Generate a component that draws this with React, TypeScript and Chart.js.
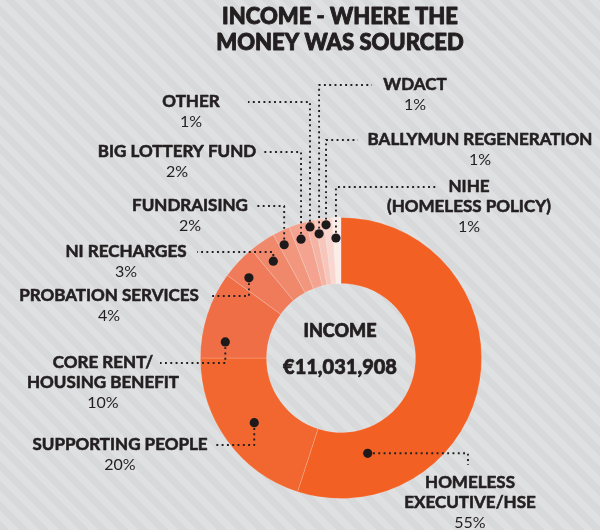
import React, { useEffect, useRef } from "react";
import { Chart, registerables } from "chart.js";

Chart.register(...registerables);

// ---------- data ----------
const chartTitle = ["INCOME - WHERE THE", "MONEY WAS SOURCED"];
const centerTitle = "INCOME";
const totalIncome = "€11,031,908";

const categories = [
  "HOMELESS EXECUTIVE/HSE",
  "SUPPORTING PEOPLE",
  "CORE RENT/HOUSING BENEFIT",
  "PROBATION SERVICES",
  "NI RECHARGES",
  "FUNDRAISING",
  "BIG LOTTERY FUND",
  "OTHER",
  "WDACT",
  "BALLYMUN REGENERATION",
  "NIHE (HOMELESS POLICY)",
];

const labelLines = [
  ["HOMELESS", "EXECUTIVE/HSE"],
  ["SUPPORTING PEOPLE"],
  ["CORE RENT/", "HOUSING BENEFIT"],
  ["PROBATION SERVICES"],
  ["NI RECHARGES"],
  ["FUNDRAISING"],
  ["BIG LOTTERY FUND"],
  ["OTHER"],
  ["WDACT"],
  ["BALLYMUN REGENERATION"],
  ["NIHE", "(HOMELESS POLICY)"],
];

const shares = [55, 20, 10, 4, 3, 2, 2, 1, 1, 1, 1];

const sliceColors = [
  "#F26024",
  "#F2672F",
  "#F06E46",
  "#EF7B5A",
  "#F0896B",
  "#F2977E",
  "#F3A390",
  "#F5B3A4",
  "#F7C5BA",
  "#F9D7D0",
  "#FCECE8",
];

// ---------- callout layout (style, offsets from doughnut centre) ----------
// t: position along slice angle (0..1), r: position across ring (0..1)
// path: "vh" = vertical then horizontal, "hv" = horizontal then vertical
// ex/ey: end of leader; lx/ly: label centre x / first line y
const callouts = [
  { t: 0.83, r: 0.37, path: "hv", ex: 127, ey: 107, lx: 129, ly: 125 },
  { t: 0.49, r: 0.51, path: "vh", ex: -128, ey: 87, lx: -221, ly: 87 },
  { t: 0.22, r: 0.64, path: "vh", ex: -181, ey: 5, lx: -238, ly: 5 },
  { t: 0.35, r: 0.72, path: "vh", ex: -129, ey: -62, lx: -232, ly: -62 },
  { t: 0.43, r: 0.66, path: "vh", ex: -144, ey: -106, lx: -215, ly: -106 },
  { t: 0.3, r: 0.79, path: "vh", ex: -84, ey: -152, lx: -151, ly: -152 },
  { t: 0.42, r: 0.77, path: "vh", ex: -78, ey: -206, lx: -164, ly: -206 },
  { t: 0.3, r: 0.91, path: "vh", ex: -93, ey: -256, lx: -150, ly: -256 },
  { t: 0.22, r: 0.78, path: "vh", ex: 31, ey: -273, lx: 74, ly: -273 },
  { t: 0.22, r: 0.9, path: "vh", ex: 17, ey: -218, lx: 139, ly: -218 },
  { t: 0.33, r: 0.69, path: "vh", ex: 96, ey: -171, lx: 128, ly: -171 },
];

const INK = "#231F20";
const FAMILY = "Lato, 'Open Sans', sans-serif";
const BOLD = `bold 17px ${FAMILY}`;
const LIGHT = `400 16px ${FAMILY}`;

function heavyText(ctx: CanvasRenderingContext2D, s: string, x: number, y: number, w = 0.7) {
  ctx.lineWidth = w;
  ctx.strokeText(s, x, y);
  ctx.fillText(s, x, y);
}

const calloutPlugin = {
  id: "callouts",
  afterDraw(chart: any) {
    const ctx: CanvasRenderingContext2D = chart.ctx;
    const arcs = chart.getDatasetMeta(0).data;
    if (!arcs.length) return;
    const first = arcs[0].getProps(["x", "y"], true);
    const cx = first.x;
    const cy = first.y;

    ctx.save();
    ctx.fillStyle = INK;
    ctx.strokeStyle = INK;
    ctx.lineJoin = "round";
    ctx.textAlign = "center";
    ctx.textBaseline = "middle";

    // title
    ctx.font = `900 22px ${FAMILY}`;
    heavyText(ctx, chartTitle[0], cx - 1, 17, 0.9);
    heavyText(ctx, chartTitle[1], cx - 1, 43, 0.9);

    // centre text
    ctx.font = `900 18px ${FAMILY}`;
    heavyText(ctx, centerTitle, cx - 1, cy - 27);
    ctx.font = `900 20px ${FAMILY}`;
    heavyText(ctx, totalIncome, cx - 1, cy + 10);

    // leaders
    const dots: Array<[number, number]> = [];
    arcs.forEach((arc: any, i: number) => {
      const c = callouts[i];
      const p = arc.getProps(
        ["x", "y", "startAngle", "endAngle", "innerRadius", "outerRadius"],
        true
      );
      const ang = p.startAngle + c.t * (p.endAngle - p.startAngle);
      const rad = p.innerRadius + c.r * (p.outerRadius - p.innerRadius);
      const dx = p.x + Math.cos(ang) * rad;
      const dy = p.y + Math.sin(ang) * rad;
      dots.push([dx, dy]);
      const ex = cx + c.ex;
      const ey = cy + c.ey;
      ctx.save();
      ctx.strokeStyle = INK;
      ctx.lineWidth = 1.9;
      ctx.setLineDash([1.9, 3.4]);
      ctx.beginPath();
      ctx.moveTo(dx, dy);
      if (c.path === "vh") {
        ctx.lineTo(dx, ey);
      } else {
        ctx.lineTo(ex, dy);
      }
      ctx.lineTo(ex, ey);
      ctx.stroke();
      ctx.restore();

      // label
      const lines = labelLines[i];
      const lx = cx + c.lx;
      let y = cy + c.ly;
      ctx.font = BOLD;
      lines.forEach((ln, k) => {
        if (k > 0) y += 20;
        heavyText(ctx, ln, lx, y, 0.6);
      });
      ctx.font = LIGHT;
      ctx.fillText(shares[i] + "%", lx, y + 20);
    });

    // dots
    ctx.fillStyle = "#1E1A1B";
    dots.forEach(([x, y]) => {
      ctx.beginPath();
      ctx.arc(x, y, 4.6, 0, Math.PI * 2);
      ctx.fill();
    });
    ctx.restore();
  },
};

export default function App() {
  const ref = useRef<HTMLCanvasElement | null>(null);

  useEffect(() => {
    document.body.style.margin = "0";
    if (!ref.current) return;
    const chart = new Chart(ref.current, {
      type: "doughnut",
      data: {
        labels: categories,
        datasets: [
          {
            data: shares,
            backgroundColor: sliceColors,
            borderColor: "rgba(255,255,255,0.22)",
            borderWidth: 0.8,
            hoverOffset: 0,
            offset: 0,
          },
        ],
      },
      options: {
        responsive: false,
        animation: false,
        events: [],
        cutout: "53%",
        rotation: 0,
        layout: { padding: { left: 200, right: 118, top: 217, bottom: 31 } },
        plugins: {
          legend: { display: false },
          tooltip: { enabled: false },
          title: { display: false },
        },
      },
      plugins: [calloutPlugin],
    });
    return () => chart.destroy();
  }, []);

  return (
    <div
      style={{
        position: "absolute",
        left: 0,
        top: 0,
        width: 600,
        height: 530,
        background:
          "repeating-linear-gradient(45deg, #D8D9DA 0px, #D8D9DA 7px, #DFE0E1 7px, #DFE0E1 14px)",
      }}
    >
      <canvas ref={ref} width={600} height={530} style={{ display: "block" }} />
    </div>
  );
}
